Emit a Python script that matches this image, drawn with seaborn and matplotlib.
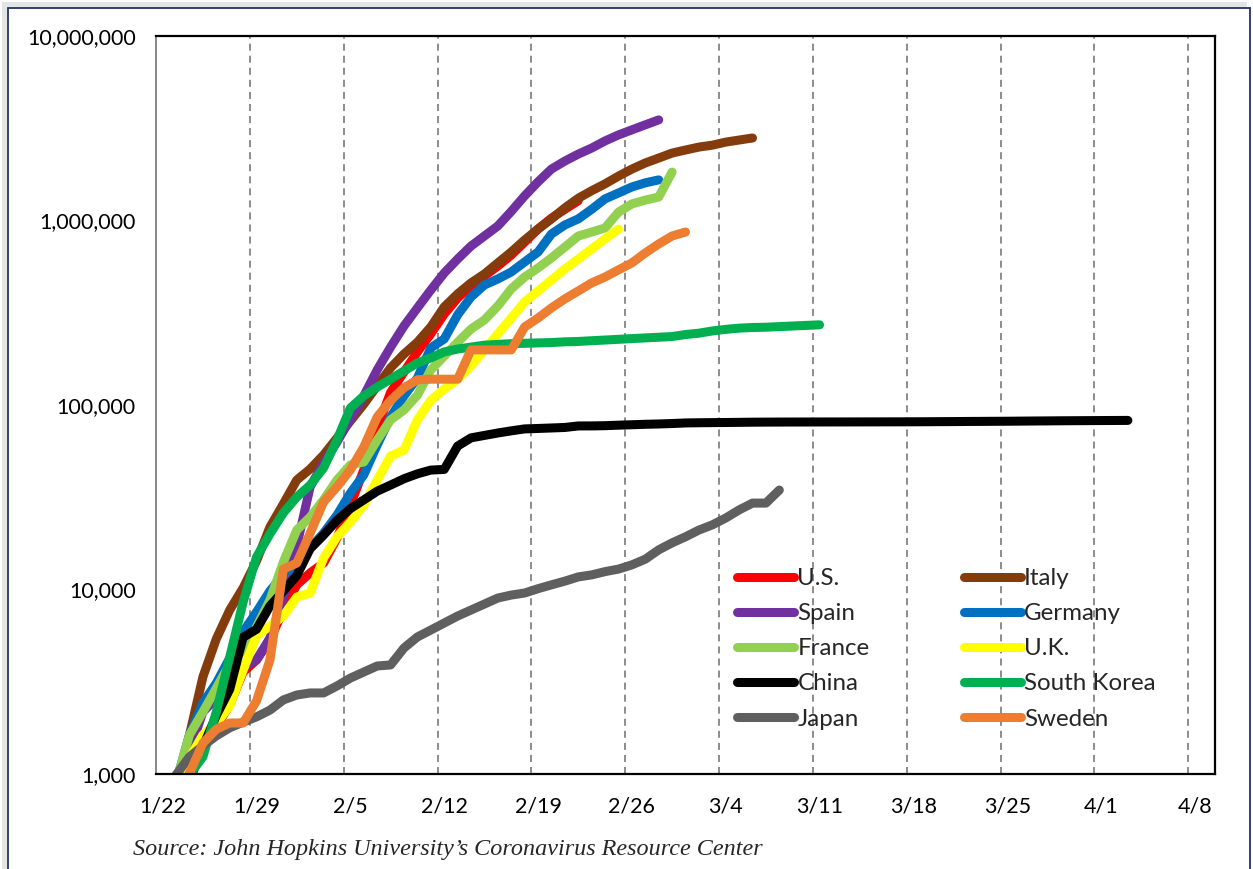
import numpy as np
import pandas as pd
import matplotlib
matplotlib.use("Agg")
import matplotlib.pyplot as plt
import seaborn as sns
from matplotlib.ticker import FuncFormatter, FixedLocator, NullLocator
from matplotlib.patches import Rectangle
from matplotlib.lines import Line2D

# ---------------- data ----------------
countries = ["U.S.", "Italy", "Spain", "Germany", "France", "U.K.",
             "China", "South Korea", "Japan", "Sweden"]
colors = ["#FF0000", "#843C0C", "#7030A0", "#0070C0", "#92D050", "#FFFF00",
          "#000000", "#00B050", "#5F5F5F", "#ED7D31"]

# first category index (days after 1/22) of each series
first_day = [1, 1, 1, 1, 1, 1, 2, 1, 1, 1]

us = [900, 1270, 1570, 1800, 2370, 3570, 4150, 5330, 7740, 10600, 12300, 13900,
      19000, 28700, 44500, 75000, 117000, 151000, 194000, 243000, 311000, 380000,
      442000, 500000, 567000, 650000, 764000, 899000, 1030000, 1150000, 1280000]
italy = [800, 1630, 3360, 5400, 7740, 10200, 14300, 21800, 29100, 39200, 45000,
         53600, 66200, 81900, 101000, 127000, 159000, 189000, 219000, 265000,
         340000, 400000, 459000, 513000, 589000, 675000, 784000, 899000, 1020000,
         1170000, 1320000, 1450000, 1580000, 1740000, 1900000, 2050000, 2180000,
         2320000, 2410000, 2500000, 2560000, 2660000, 2730000, 2800000]
spain = [900, 1320, 2170, 2580, 3230, 3800, 4150, 5460, 9100, 17200, 36000, 48500,
         63000, 84000, 112000, 155000, 206000, 268000, 336000, 420000, 519000,
         618000, 727000, 824000, 934000, 1120000, 1360000, 1620000, 1900000,
         2100000, 2290000, 2470000, 2700000, 2910000, 3100000, 3300000, 3510000]
germany = [900, 1630, 2430, 3110, 4250, 5890, 7560, 9820, 12000, 13900, 16800,
           20200, 25300, 33300, 41800, 60700, 86100, 112000, 140000, 204000,
           228000, 308000, 385000, 447000, 482000, 526000, 596000, 675000, 845000,
           946000, 1020000, 1150000, 1310000, 1410000, 1520000, 1600000, 1660000]
france = [900, 1630, 2170, 2920, 3950, 4700, 6270, 8770, 14100, 21000, 24700,
          30600, 39200, 47300, 49100, 64600, 83000, 94000, 113000, 155000, 184000,
          219000, 258000, 289000, 344000, 426000, 494000, 553000, 627000, 718000,
          824000, 866000, 911000, 1110000, 1230000, 1290000, 1340000, 1830000]
uk = [850, 1220, 1630, 1870, 2340, 3660, 5600, 6340, 7180, 9100, 9570, 14800,
      19300, 23200, 28700, 39200, 52900, 57000, 83000, 106000, 122000, 138000,
      163000, 199000, 243000, 296000, 362000, 415000, 476000, 546000, 618000,
      701000, 794000, 899000]
china = [920, 1406, 2075, 2877, 5509, 6087, 8141, 9802, 11891, 16630, 19716, 23707,
         27440, 30587, 34110, 36814, 39829, 42354, 44386, 44759, 59895, 66358,
         68413, 70513, 72434, 74211, 74619, 75077, 75550, 77001, 77022, 77241,
         77754, 78166, 78600, 78928, 79356, 79932, 80136, 80261, 80386, 80537,
         80690, 80770, 80823, 80860, 80887, 80921, 80932, 80945, 80977, 81003,
         81033, 81058, 81102, 81156, 81250, 81305, 81435, 81498, 81591, 81661,
         81782, 81897, 81999, 82122, 82198, 82279, 82361, 82432, 82511]
south_korea = [500, 990, 1240, 2170, 4300, 8550, 15000, 20000, 26000, 31700, 36800,
               45600, 64600, 96300, 112000, 125000, 138000, 153000, 169000, 180000,
               194000, 201000, 206000, 211000, 213000, 215000, 216000, 217000,
               218000, 220000, 221000, 223000, 225000, 227000, 229000, 231000,
               233000, 235000, 241000, 245000, 252000, 257000, 261000, 263000,
               264000, 266000, 268000, 270000, 272000]
japan = [990, 1240, 1420, 1610, 1780, 1910, 2040, 2220, 2520, 2680, 2750, 2750,
         3000, 3310, 3570, 3850, 3900, 4820, 5530, 6030, 6580, 7180, 7740, 8340,
         8990, 9330, 9570, 10100, 10600, 11100, 11700, 12000, 12500, 12900, 13600,
         14600, 16400, 17900, 19300, 21000, 22400, 24400, 27000, 29400, 29400, 34600]
sweden = [700, 1010, 1470, 1750, 1890, 1890, 2490, 4150, 12900, 13900, 20200,
          29800, 36000, 44500, 59200, 86100, 106000, 124000, 137000, 138000,
          138000, 138000, 199000, 199000, 199000, 199000, 265000, 296000, 336000,
          376000, 415000, 459000, 494000, 540000, 589000, 667000, 746000, 824000,
          866000]

series = [us, italy, spain, germany, france, uk, china, south_korea, japan, sweden]

date_labels = ["1/22", "1/29", "2/5", "2/12", "2/19", "2/26", "3/4", "3/11",
               "3/18", "3/25", "4/1", "4/8"]
y_ticks = [1_000, 10_000, 100_000, 1_000_000, 10_000_000]
n_categories = 79
source = "Source: John Hopkins University\u2019s Coronavirus Resource Center"

# ---------------- tidy frame ----------------
rows = []
for name, start, vals in zip(countries, first_day, series):
    for i, v in enumerate(vals):
        rows.append({"country": name, "day": start + i, "cases": v})
df = pd.DataFrame(rows)
df["x"] = df["day"] + 0.5          # plotted at the category centre

# ---------------- style ----------------
sns.set_style("white")
plt.rcParams["font.family"] = ["Lato", "DejaVu Sans"]

W, H = 1253, 869
fig = plt.figure(figsize=(W / 100, H / 100), dpi=100)
fig.patch.set_facecolor("white")

# outer frame with soft shadow
fig.patches.append(Rectangle((2 / W, -0.05), 1245 / W, 1.05 - 2 / H,
                             transform=fig.transFigure, facecolor="#e4e4e4",
                             edgecolor="none", zorder=-3))
fig.patches.append(Rectangle((7.5 / W, -0.05), 1242 / W, 1.05 - 8 / H,
                             transform=fig.transFigure, facecolor="white",
                             edgecolor="#1F3564", linewidth=1.3, zorder=-2))

ax = fig.add_axes([156 / W, 1 - 774 / H, 1059 / W, 738 / H])
ax.set_facecolor("none")

sns.lineplot(data=df, x="x", y="cases", hue="country", hue_order=countries,
             palette=colors, linewidth=6.5, estimator=None, sort=False,
             legend=False, ax=ax, solid_capstyle="round", solid_joinstyle="round")

ax.set_yscale("log")
ax.set_ylim(y_ticks[0], y_ticks[-1])
ax.set_xlim(0, n_categories)

# y axis
ax.yaxis.set_major_locator(FixedLocator(y_ticks))
ax.yaxis.set_minor_locator(NullLocator())
ax.yaxis.set_major_formatter(FuncFormatter(lambda v, p: f"{int(round(v)):,}"))
ax.tick_params(axis="y", which="major", length=4.5, width=1.1, color="#808080",
               direction="out", pad=10, labelsize=15.5, labelcolor="black")

# x axis: labels at category centres, dashed grid on week boundaries
label_pos = [7 * k + 0.5 for k in range(len(date_labels))]
ax.xaxis.set_major_locator(FixedLocator(label_pos))
ax.set_xticklabels(date_labels)
ax.xaxis.set_minor_locator(FixedLocator([7 * k for k in range(1, len(date_labels))]))
ax.tick_params(axis="x", which="both", length=0, pad=16, labelsize=15.5,
               labelcolor="black")
ax.grid(False)
ax.grid(which="minor", axis="x", color="#8c8c8c", linewidth=1.4,
        linestyle=(0, (3.6, 2.6)))
ax.set_axisbelow(True)
ax.set_xlabel("")
ax.set_ylabel("")

for side in ["top", "right", "bottom"]:
    ax.spines[side].set_visible(True)
    ax.spines[side].set_color("black")
    ax.spines[side].set_linewidth(1.6)
ax.spines["left"].set_color("#808080")
ax.spines["left"].set_linewidth(1.3)

# legend (two columns, filled row by row like the original)
handles = {c: Line2D([], [], color=col, linewidth=6.5, solid_capstyle="round")
           for c, col in zip(countries, colors)}
order = countries[0::2] + countries[1::2]
leg = ax.legend([handles[c] for c in order], order, ncol=2, frameon=False,
                loc="upper left", bbox_to_anchor=(737 / W, 1 - 568 / H),
                bbox_transform=fig.transFigure, fontsize=17.4,
                handlelength=2.35, handletextpad=0.15, labelspacing=0.585,
                columnspacing=3.9, borderpad=0, borderaxespad=0)

fig.text(133 / W, 1 - 849 / H, source, fontsize=17.4, style="italic",
         family=["Liberation Serif", "DejaVu Serif"], va="center", ha="left")

fig.savefig("out.png", dpi=100, facecolor=fig.get_facecolor())
